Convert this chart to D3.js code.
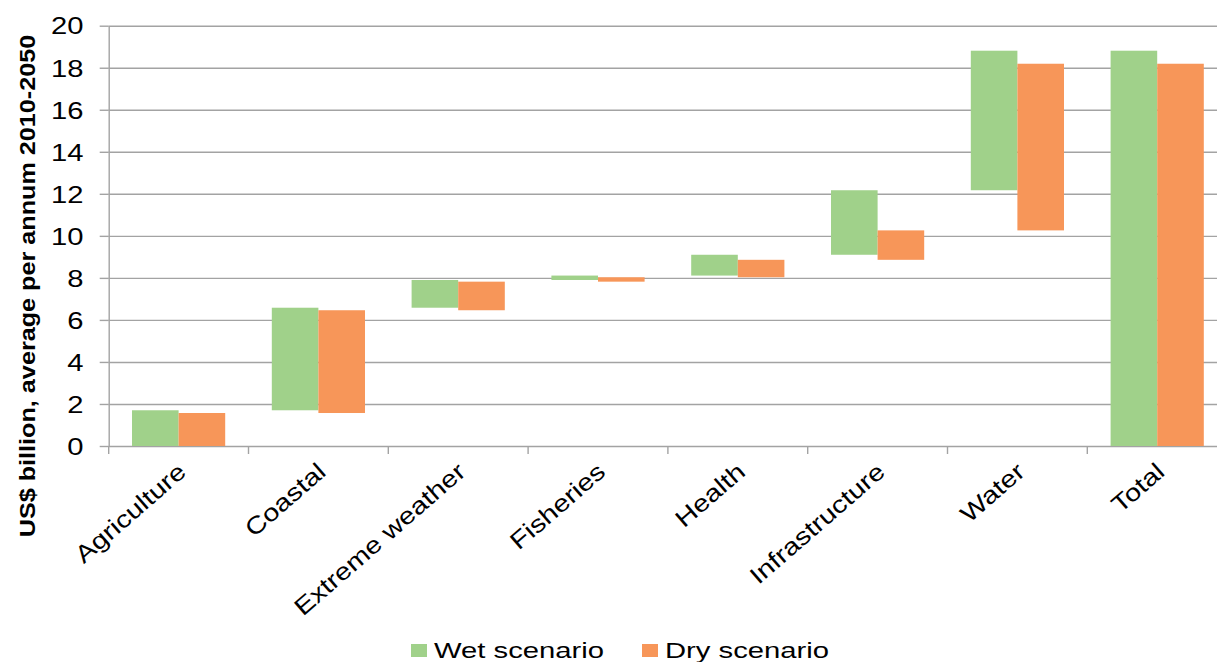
<!DOCTYPE html>
<html>
<head>
<meta charset="utf-8">
<script src="https://cdn.jsdelivr.net/npm/d3@7"></script>
<style>
  html, body { margin: 0; padding: 0; background: #fff; }
  svg { display: block; overflow: hidden; }
  text { font-family: "Liberation Sans", Arial, sans-serif; fill: #000; }
</style>
</head>
<body>
<svg id="chart" width="1217" height="662"></svg>
<script>
// Adaptation cost components (US$ billion, average per annum 2010-2050)
const categories = ["Agriculture", "Coastal", "Extreme weather", "Fisheries",
                    "Health", "Infrastructure", "Water", "Total"];
// Increment contributed by each sector (the last category is the running total)
const wetScenario = [1.70, 4.88, 1.32, 0.21, 0.99, 3.07, 6.64];
const dryScenario = [1.57, 4.89, 1.36, 0.21, 0.83, 1.40, 7.93];
const seriesNames = ["Wet scenario", "Dry scenario"];
const seriesColors = ["#a0d18a", "#f79659"];
const yTicks = [0, 2, 4, 6, 8, 10, 12, 14, 16, 18, 20];

// Build floating (waterfall) segments for a series
function waterfall(values) {
  const out = [];
  let acc = 0;
  values.forEach((v, i) => {
    out.push({ cat: categories[i], start: acc, end: acc + v });
    acc += v;
  });
  out.push({ cat: categories[categories.length - 1], start: 0, end: acc });
  return out;
}
const series = [waterfall(wetScenario), waterfall(dryScenario)];

const svg = d3.select("#chart");
const plotLeft = 108.7, step = 139.8;
const plotTop = 25.7, plotBottom = 446;

const x = d3.scaleBand().domain(categories)
  .range([plotLeft, plotLeft + step * categories.length]).padding(0);
const xSub = d3.scaleBand().domain(seriesNames)
  .range([x.bandwidth() / 6, x.bandwidth() * 5 / 6]).padding(0);
const y = d3.scaleLinear().domain([0, 20]).range([plotBottom, plotTop]);

const gridColor = "#a3a3a3";

// Horizontal gridlines
const grid = svg.append("g")
  .attr("transform", `translate(${plotLeft},0)`)
  .call(d3.axisLeft(y).tickValues(yTicks).tickSize(-(1217 - plotLeft)).tickFormat(""));
grid.select(".domain").remove();
grid.selectAll(".tick line").attr("stroke", gridColor).attr("stroke-width", 1.4);

// Y axis with outward ticks and labels
const yAxis = svg.append("g")
  .attr("transform", `translate(${plotLeft},0)`)
  .call(d3.axisLeft(y).tickValues(yTicks).tickSize(9).tickSizeOuter(0));
yAxis.select(".domain").attr("stroke", gridColor).attr("stroke-width", 1.4);
yAxis.selectAll(".tick line").attr("stroke", gridColor).attr("stroke-width", 1.4);
yAxis.selectAll(".tick text")
  .attr("x", 0).attr("dy", "0.36em")
  .attr("transform", `translate(${83.5 - plotLeft},0) scale(1.27,1)`)
  .attr("text-anchor", "end")
  .style("font-size", "23px")
  .style("font-family", "'Liberation Sans', Arial, sans-serif")
  .attr("fill", "#000");

// Category boundary ticks below the x axis
const bounds = categories.map(c => x(c)).concat([x.range()[1]]);
svg.append("g").selectAll("line").data(bounds).join("line")
  .attr("x1", d => d).attr("x2", d => d)
  .attr("y1", plotBottom).attr("y2", plotBottom + 8)
  .attr("stroke", gridColor).attr("stroke-width", 1.4);

// Bars
series.forEach((segs, si) => {
  svg.append("g").selectAll("rect").data(segs).join("rect")
    .attr("x", d => x(d.cat) + xSub(seriesNames[si]))
    .attr("width", xSub.bandwidth())
    .attr("y", d => y(Math.max(d.start, d.end)))
    .attr("height", d => Math.abs(y(d.start) - y(d.end)))
    .attr("fill", seriesColors[si]);
});

// Rotated category labels
svg.append("g").selectAll("text").data(categories).join("text")
  .attr("transform", d => `translate(${x(d) + x.bandwidth() / 2 + 9},474) rotate(-41) scale(1.2,1)`)
  .attr("text-anchor", "end")
  .style("font-size", "24px")
  .text(d => d);

// Y axis title
svg.append("text")
  .attr("transform", "translate(34.5,286) rotate(-90) scale(1.12,1)")
  .attr("text-anchor", "middle")
  .style("font-size", "22.5px")
  .style("font-weight", "bold")
  .text("US$ billion, average per annum 2010-2050");

// Legend
const legendPos = [411, 642];
const legend = svg.append("g").selectAll("g").data(seriesNames).join("g")
  .attr("transform", (d, i) => `translate(${legendPos[i]},0)`);
legend.append("rect")
  .attr("x", 0).attr("y", 644).attr("width", 16).attr("height", 13)
  .attr("fill", (d, i) => seriesColors[i]);
legend.append("text")
  .attr("transform", "translate(23,657.5) scale(1.3,1)")
  .style("font-size", "22.5px")
  .text(d => d);
</script>
</body>
</html>
